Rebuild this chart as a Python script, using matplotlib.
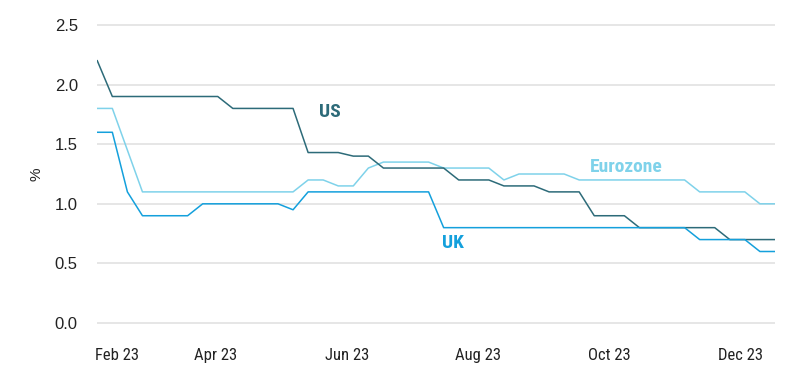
import matplotlib
matplotlib.use("Agg")
import matplotlib.pyplot as plt
import pandas as pd
from matplotlib import font_manager

# weekly observations, Feb 5 2023 .. Dec 17 2023
dates = pd.date_range("2023-02-05", periods=46, freq="7D")

us = ([2.2] + [1.9] * 8 + [1.8] * 5 + [1.43] * 3 + [1.4] * 2 + [1.3] * 5
      + [1.2] * 3 + [1.15] * 3 + [1.1] * 3 + [0.9] * 3 + [0.8] * 6 + [0.7] * 4)
eurozone = ([1.8] * 2 + [1.45] + [1.1] * 11 + [1.2] * 2 + [1.15] * 2 + [1.3]
            + [1.35] * 4 + [1.3] * 4 + [1.2] + [1.25] * 4 + [1.2] * 8
            + [1.1] * 4 + [1.0] * 2)
uk = ([1.6] * 2 + [1.1] + [0.9] * 4 + [1.0] * 6 + [0.95] + [1.1] * 9
      + [0.8] * 17 + [0.7] * 4 + [0.6] * 2)

tick_dates = pd.to_datetime(["2023-02-14", "2023-04-01", "2023-06-01",
                             "2023-08-01", "2023-10-01", "2023-12-01"])
tick_labels = ["Feb 23", "Apr 23", "Jun 23", "Aug 23", "Oct 23", "Dec 23"]
yticks = [0.0, 0.5, 1.0, 1.5, 2.0, 2.5]

c_us = "#2d6b79"
c_ez = "#7fd2ea"
c_uk = "#14a0dc"

# look for a condensed face, fall back to Roboto
fonts = font_manager.fontManager.ttflist
names = {f.name for f in fonts}
narrow, stretch = "Roboto", "normal"
for cand in ["Roboto Condensed", "Liberation Sans Narrow", "Open Sans Condensed"]:
    if cand in names:
        narrow = cand
        break
else:
    if any(f.name == "DejaVu Sans" and f.stretch == "condensed" for f in fonts):
        narrow, stretch = "DejaVu Sans", "condensed"

fig = plt.figure(figsize=(8.12, 3.80), dpi=100)
ax = fig.add_axes([0.1198, 0.1342, 0.8346, 0.8158])

ax.plot(dates, eurozone, color=c_ez, lw=1.1)
ax.plot(dates, us, color=c_us, lw=1.1)
ax.plot(dates, uk, color=c_uk, lw=1.1)

ax.set_xlim(dates[0], dates[-1])
ax.set_ylim(-0.05, 2.55)
ax.set_yticks(yticks)
ax.set_yticklabels([f"{v:.1f}" for v in yticks], fontfamily="Liberation Sans",
                   fontsize=12, color="#222222")
ax.set_xticks(tick_dates)
ax.set_xticklabels(tick_labels, fontfamily=narrow, fontstretch=stretch,
                   fontsize=12, color="#222222")
ax.tick_params(axis="both", length=0)
ax.tick_params(axis="y", pad=14)
ax.tick_params(axis="x", pad=14)
ax.grid(axis="y", color="#e6e6e6", lw=1.4)
ax.set_axisbelow(True)
for s in ax.spines.values():
    s.set_visible(False)

ax.set_ylabel("%", fontfamily="Liberation Sans", fontsize=11, color="#222222")
ax.yaxis.set_label_coords(-0.08, 0.5)

lab = dict(fontfamily=narrow, fontstretch=stretch, fontsize=14, fontweight="bold")
ax.text(pd.Timestamp("2023-05-19"), 1.77, "US", color=c_us, ha="left", va="center", **lab)
ax.text(pd.Timestamp("2023-07-15"), 0.67, "UK", color=c_uk, ha="left", va="center", **lab)
ax.text(pd.Timestamp("2023-09-22"), 1.31, "Eurozone", color=c_ez, ha="left", va="center", **lab)

fig.savefig("out.png", dpi=100)
